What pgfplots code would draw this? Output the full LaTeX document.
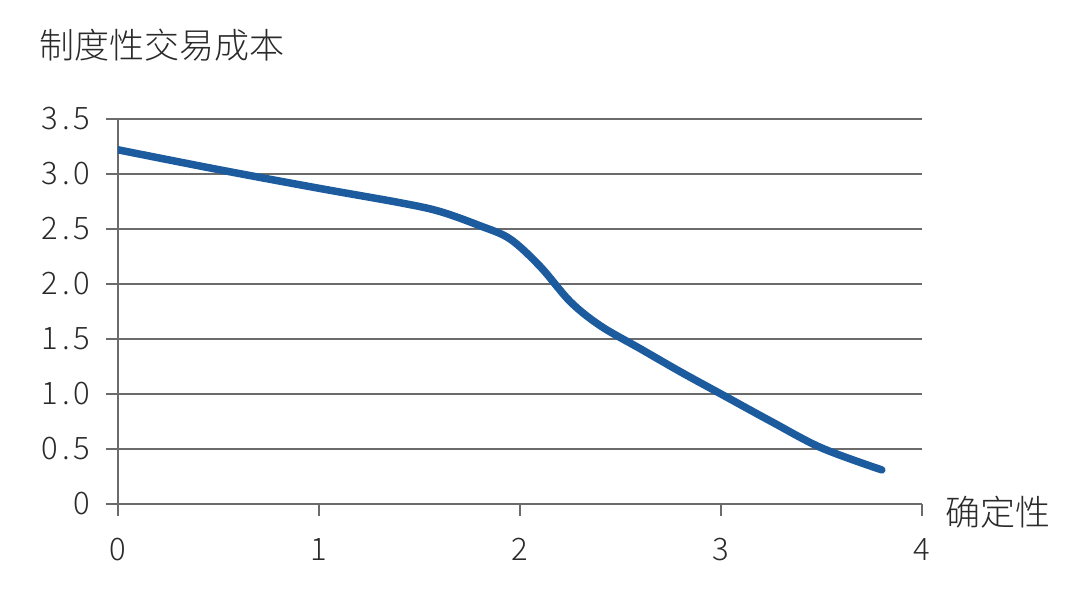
\documentclass[border=0pt]{standalone}
\usepackage{pgfplots}
\pgfplotsset{compat=1.18}
\usepackage{fontspec}
\setmainfont{Noto Sans CJK SC}[UprightFont=* Light]
\definecolor{gridgray}{HTML}{6B6B6B}
\definecolor{txt}{HTML}{2A2A2A}
\definecolor{curveblue}{HTML}{1C5C9E}
\newcommand{\dsp}{\kern4pt}
\begin{document}
\begin{tikzpicture}[x=1pt,y=1pt]
\useasboundingbox (-118,-88) rectangle (962,504);
\begin{axis}[
    at={(0,0)}, anchor=south west,
    scale only axis,
    width=804pt, height=385pt,
    xmin=0, xmax=4, ymin=0, ymax=3.5,
    axis x line*=bottom, axis y line*=left,
    x axis line style={-}, y axis line style={-},
    axis line style={gridgray, line width=2.8pt},
    xtick={0,1,2,3,4},
    ytick={0,0.5,1,1.5,2,2.5,3,3.5},
    yticklabels={0, 0\dsp.\dsp5, 1\dsp.\dsp0, 1\dsp.\dsp5, 2\dsp.\dsp0, 2\dsp.\dsp5, 3\dsp.\dsp0, 3\dsp.\dsp5},
    xticklabels={0,1,2,3,4},
    tick align=outside,
    major tick length=12pt,
    tick style={gridgray, line width=2.8pt},
    ymajorgrids=true,
    grid style={gridgray, line width=2.8pt},
    ticklabel style={font=\fontsize{31}{31}\selectfont, text=txt},
    yticklabel style={xshift=-12pt},
    xticklabel style={yshift=-19pt},
]
\addplot[curveblue, line width=7.5pt, smooth, tension=0.55, line cap=round] coordinates {
    (0,3.22) (0.5,3.04) (1.0,2.87) (1.4,2.74) (1.6,2.66) (1.8,2.53)
    (1.95,2.41) (2.1,2.16) (2.25,1.84) (2.4,1.62) (2.6,1.41) (2.8,1.20)
    (3.0,1.00) (3.25,0.75) (3.5,0.51) (3.8,0.31)
};
\end{axis}
\node[anchor=west, inner sep=0pt, text=txt, font=\fontsize{35}{35}\selectfont] at (-79,459) {制度性交易成本};
\node[anchor=west, inner sep=0pt, text=txt, font=\fontsize{35}{35}\selectfont] at (827,-8) {确定性};
\end{tikzpicture}
\end{document}
